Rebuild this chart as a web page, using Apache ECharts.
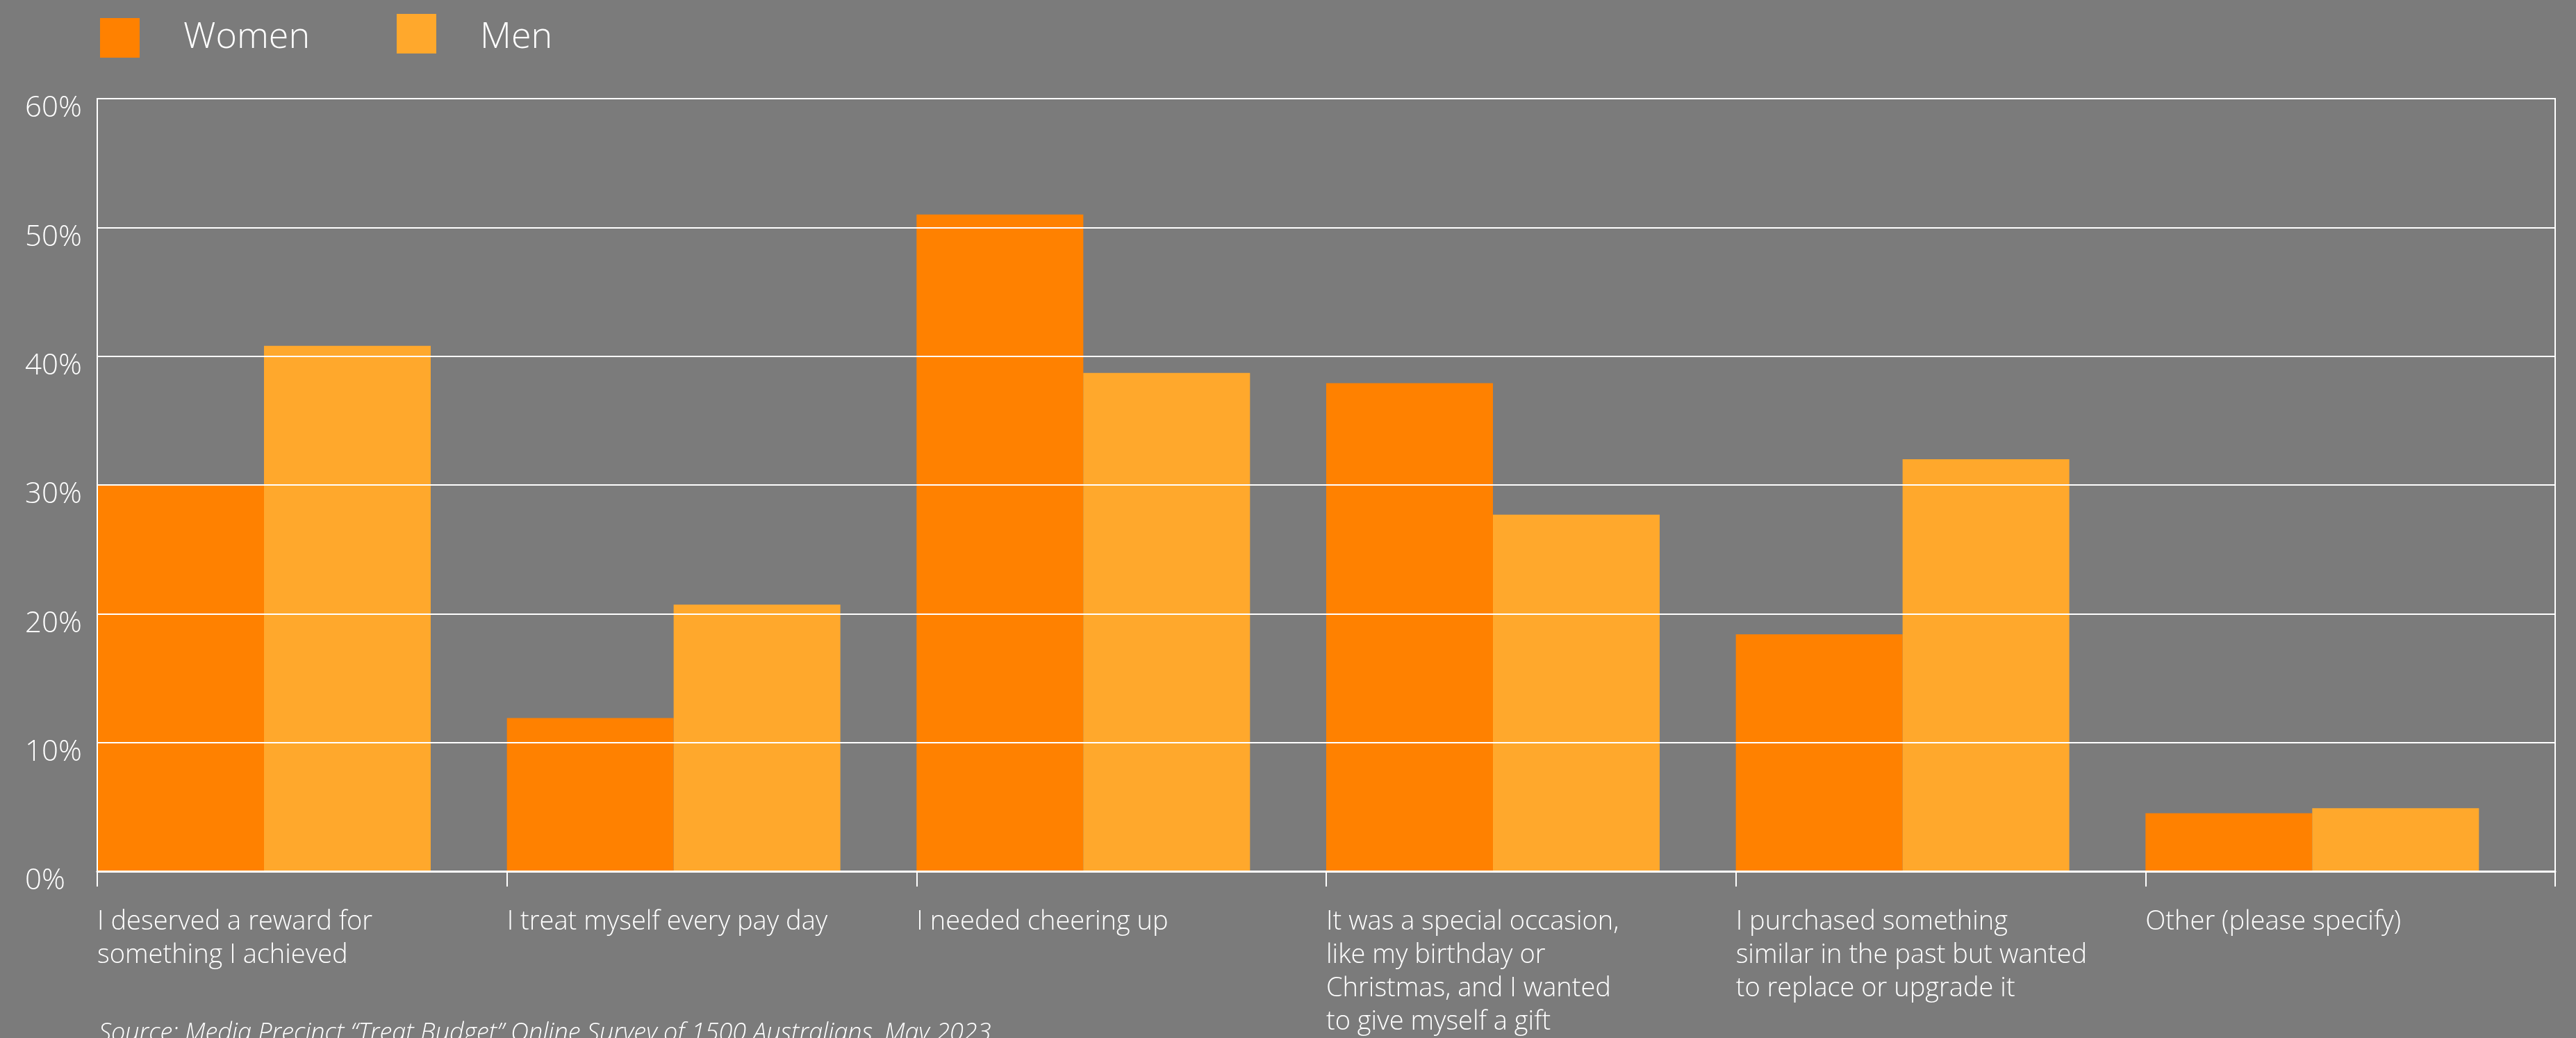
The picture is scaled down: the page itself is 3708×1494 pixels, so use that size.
<!DOCTYPE html>
<html>
<head>
<meta charset="utf-8">
<script src="https://cdn.jsdelivr.net/npm/echarts@6/dist/echarts.min.js"></script>
<style>
html,body{margin:0;padding:0;background:#7b7b7b;}
#chart{width:3708px;height:1494px;}
</style>
</head>
<body>
<div id="chart"></div>
<script>
const categories = [
  'I deserved a reward for\nsomething I achieved',
  'I treat myself every pay day',
  'I needed cheering up',
  'It was a special occasion,\nlike my birthday or\nChristmas, and I wanted\nto give myself a gift',
  'I purchased something\nsimilar in the past but wanted\nto replace or upgrade it',
  'Other (please specify)'
];
const women = [30.0, 11.9, 51.0, 37.9, 18.4, 4.5];
const men = [40.8, 20.7, 38.7, 27.7, 32.0, 4.9];
const yTicks = { min: 0, max: 60, interval: 10 };
const sourceText = 'Source: Media Precinct \u201cTreat Budget\u201d Online Survey of 1500 Australians, May 2023';

const FONT = '"Open Sans", "Noto Sans", sans-serif';
const chart = echarts.init(document.getElementById('chart'), null, {renderer: 'canvas'});
chart.setOption({
  backgroundColor: '#7b7b7b',
  animation: false,
  legend: [
    {
      data: ['Women'], left: 139, top: 21, itemWidth: 57, itemHeight: 57, icon: 'rect',
      formatter: '{t|{name}}',
      textStyle: {color: '#fff', fontSize: 52, fontWeight: 300, fontFamily: FONT,
        rich: {t: {color: '#fff', fontSize: 52, fontWeight: 300, fontFamily: FONT, padding: [0, 0, 0, 58]}}}
    },
    {
      data: ['Men'], left: 566, top: 15, itemWidth: 57, itemHeight: 57, icon: 'rect',
      formatter: '{t|{name}}',
      textStyle: {color: '#fff', fontSize: 52, fontWeight: 300, fontFamily: FONT,
        rich: {t: {color: '#fff', fontSize: 52, fontWeight: 300, fontFamily: FONT, padding: [12, 0, 0, 58]}}}
    }
  ],
  grid: {
    left: 140, right: 30, top: 142, bottom: 240,
    show: true, borderColor: '#fff', borderWidth: 2, backgroundColor: 'transparent',
    outerBoundsMode: 'none'
  },
  xAxis: [
    {
      type: 'category', data: categories, boundaryGap: true, z: 10,
      axisLine: {show: true, lineStyle: {color: '#fff', width: 3}},
      axisTick: {show: true, length: 22, lineStyle: {color: '#fff', width: 2}},
      axisLabel: {show: false}
    },
    {
      type: 'category', data: categories.concat(['']), boundaryGap: false, position: 'bottom',
      axisLine: {show: false}, axisTick: {show: false}, splitLine: {show: false},
      axisLabel: {
        show: true, interval: 0, align: 'left', verticalAlign: 'top', margin: 49,
        color: '#fff', fontSize: 38, fontWeight: 300, fontFamily: FONT, lineHeight: 48
      }
    }
  ],
  yAxis: {
    type: 'value', min: yTicks.min, max: yTicks.max, interval: yTicks.interval, z: 10,
    axisLine: {show: true, lineStyle: {color: '#fff', width: 2}},
    axisTick: {show: false},
    splitLine: {show: true, lineStyle: {color: '#fff', width: 2}},
    axisLabel: {
      formatter: '{value}%', align: 'left', margin: 104, verticalAlign: 'top',
      lineHeight: 29,
      color: '#fff', fontSize: 42, fontWeight: 300, fontFamily: FONT
    }
  },
  series: [
    {name: 'Women', type: 'bar', xAxisIndex: 0, data: women, barWidth: '40.7%', barGap: '0%',
     itemStyle: {color: '#ff8100'}},
    {name: 'Men', type: 'bar', xAxisIndex: 0, data: men, barWidth: '40.7%', barGap: '0%',
     itemStyle: {color: '#ffa82c'}},
    {name: 'spacer', type: 'bar', xAxisIndex: 0, data: [], barWidth: '18.6%', barGap: '0%',
     itemStyle: {color: 'transparent'}, silent: true}
  ],
  graphic: [
    {
      type: 'text', left: 142, top: 1470,
      style: {text: sourceText, fill: '#fff', fontSize: 36, fontStyle: 'italic', fontWeight: 300, fontFamily: FONT}
    }
  ]
});
</script>
</body>
</html>
